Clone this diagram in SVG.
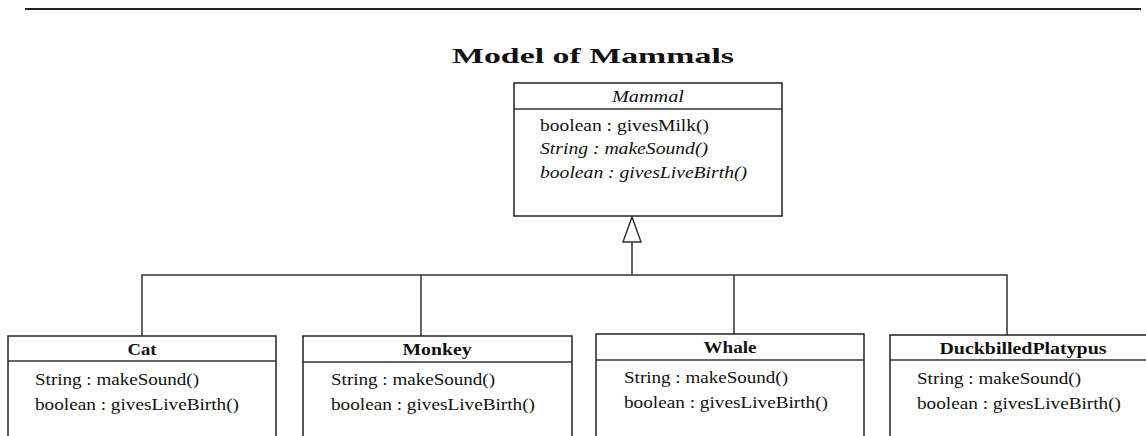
<svg xmlns="http://www.w3.org/2000/svg" width="1146" height="436" viewBox="0 0 1146 436">
<style>
.box{fill:#fff;stroke:#222;stroke-width:1.5}
.ln{fill:none;stroke:#333;stroke-width:1.5}
.t{font-family:"Liberation Serif","Times New Roman",serif;font-size:16px;fill:#111}
.h{font-family:"Liberation Serif","Times New Roman",serif;font-size:16px;font-weight:bold;fill:#111;text-anchor:middle}
.i{font-style:italic}
.title{font-family:"Liberation Serif","Times New Roman",serif;font-size:22px;font-weight:bold;fill:#111;text-anchor:middle}
</style>
<rect width="1146" height="436" fill="#fff"/>
<line x1="25" y1="9" x2="1141" y2="9" stroke="#222" stroke-width="2"/>
<text class="title" x="593" y="63" textLength="282" lengthAdjust="spacingAndGlyphs">Model of Mammals</text>
<g id="connectors">
<path class="ln" d="M142,336 V275 H1007 V335"/>
<path class="ln" d="M421,275 V336"/>
<path class="ln" d="M734,275 V334"/>
<path class="ln" d="M632,275 V242"/>
<path class="ln" d="M632,217 L641,242 H623 Z"/>
</g>
<g id="mammal">
<rect class="box" x="514" y="83" width="268" height="133"/>
<line class="ln" x1="514" y1="109" x2="782" y2="109"/>
<text class="t i" x="612" y="102" textLength="72" lengthAdjust="spacingAndGlyphs">Mammal</text>
<text class="t" x="540" y="131" textLength="169" lengthAdjust="spacingAndGlyphs">boolean : givesMilk()</text>
<text class="t i" x="540" y="154" textLength="168" lengthAdjust="spacingAndGlyphs">String : makeSound()</text>
<text class="t i" x="540" y="178" textLength="207" lengthAdjust="spacingAndGlyphs">boolean : givesLiveBirth()</text>
</g>
<g id="cat">
<path class="box" d="M8,440 V336 H276 V440"/>
<line class="ln" x1="8" y1="361" x2="276" y2="361"/>
<text class="h" x="142" y="355" textLength="29" lengthAdjust="spacingAndGlyphs">Cat</text>
<text class="t" x="35" y="385" textLength="164" lengthAdjust="spacingAndGlyphs">String : makeSound()</text>
<text class="t" x="35" y="410" textLength="204" lengthAdjust="spacingAndGlyphs">boolean : givesLiveBirth()</text>
</g>
<g id="monkey">
<path class="box" d="M303,440 V336 H572 V440"/>
<line class="ln" x1="303" y1="362" x2="572" y2="362"/>
<text class="h" x="437" y="355" textLength="69" lengthAdjust="spacingAndGlyphs">Monkey</text>
<text class="t" x="331" y="385" textLength="164" lengthAdjust="spacingAndGlyphs">String : makeSound()</text>
<text class="t" x="331" y="410" textLength="204" lengthAdjust="spacingAndGlyphs">boolean : givesLiveBirth()</text>
</g>
<g id="whale">
<path class="box" d="M596,440 V334 H864 V440"/>
<line class="ln" x1="596" y1="360" x2="864" y2="360"/>
<text class="h" x="730" y="353" textLength="53" lengthAdjust="spacingAndGlyphs">Whale</text>
<text class="t" x="624" y="383" textLength="164" lengthAdjust="spacingAndGlyphs">String : makeSound()</text>
<text class="t" x="624" y="408" textLength="204" lengthAdjust="spacingAndGlyphs">boolean : givesLiveBirth()</text>
</g>
<g id="platypus">
<path class="box" d="M890,440 V335 H1150 V440"/>
<line class="ln" x1="890" y1="360" x2="1150" y2="360"/>
<text class="h" x="1023" y="354" textLength="167" lengthAdjust="spacingAndGlyphs">DuckbilledPlatypus</text>
<text class="t" x="917" y="384" textLength="164" lengthAdjust="spacingAndGlyphs">String : makeSound()</text>
<text class="t" x="917" y="409" textLength="204" lengthAdjust="spacingAndGlyphs">boolean : givesLiveBirth()</text>
</g>
</svg>
